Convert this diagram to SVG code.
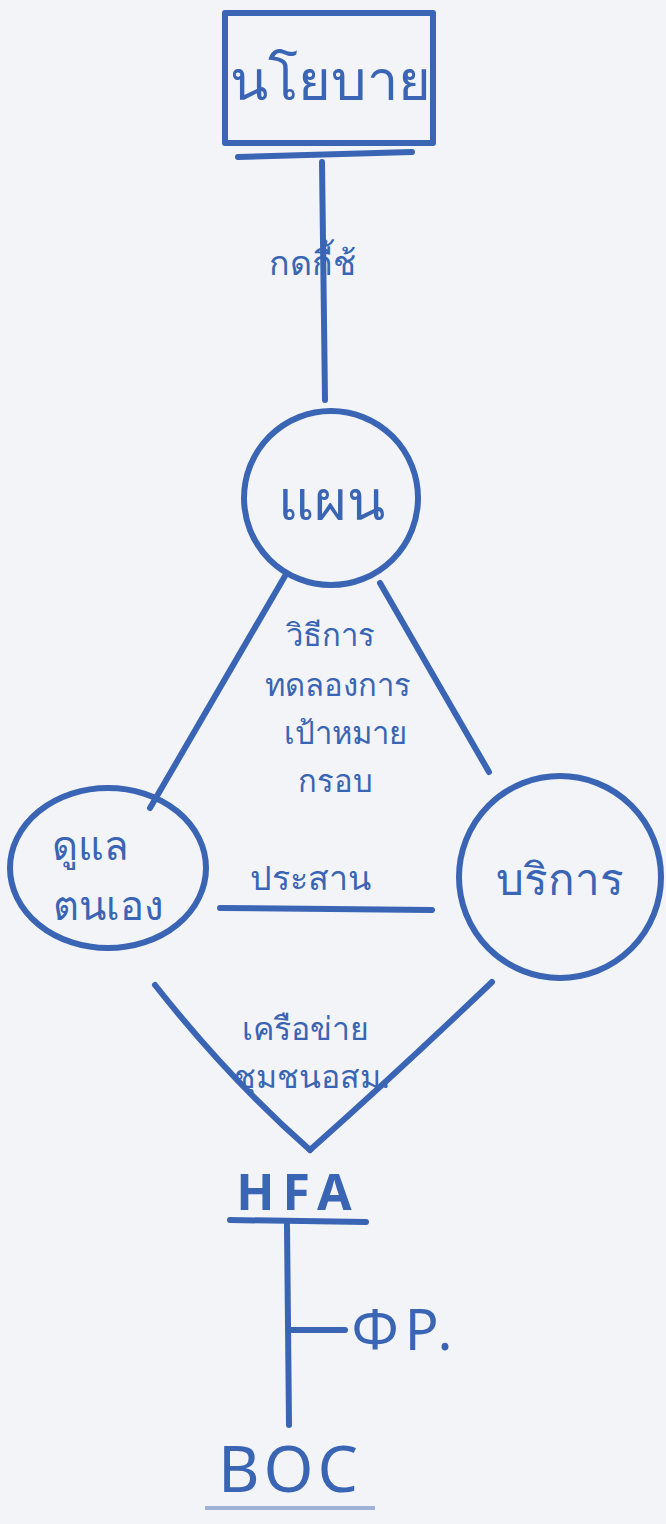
<svg xmlns="http://www.w3.org/2000/svg" width="666" height="1524" viewBox="0 0 666 1524">
<style>
.s{fill:none;stroke:#3a64b4;stroke-width:6;stroke-linecap:round;stroke-linejoin:round}
.t{fill:#3a64b4;font-family:"Noto Sans","Liberation Sans",sans-serif;text-anchor:middle}
</style>
<rect width="666" height="1524" fill="#f3f4f8"/>
<g id="connectors">
<path class="s" d="M322,162 L325,400"/>
<path class="s" d="M285,576 L150,808"/>
<path class="s" d="M380,583 L489,772"/>
<path class="s" d="M220,908 L432,910"/>
<path class="s" d="M155,985 Q230,1080 310,1150"/>
<path class="s" d="M492,982 Q400,1070 310,1150"/>
<path class="s" d="M287,1225 L289,1425"/>
<path class="s" d="M290,1330 L345,1330"/>
<text class="t" x="312" y="275" font-size="34">กดกี้ช้</text>
<text class="t" x="330" y="646" font-size="31">วิธีการ</text>
<text class="t" x="338" y="696" font-size="31">ทดลองการ</text>
<text class="t" x="345" y="744" font-size="31">เป้าหมาย</text>
<text class="t" x="335" y="792" font-size="31">กรอบ</text>
<text class="t" x="310" y="890" font-size="34">ประสาน</text>
<text class="t" x="305" y="1040" font-size="32">เครือข่าย</text>
<text class="t" x="312" y="1088" font-size="32">ชุมชนอสม.</text>
</g>
<g id="n-policy">
<rect class="s" x="225" y="13" width="208" height="130"/>
<path class="s" d="M238,157 L412,152"/>
<text class="t" x="330" y="100" font-size="56">นโยบาย</text>
</g>
<g id="n-plan">
<circle class="s" cx="331" cy="498" r="87"/>
<text class="t" x="331" y="520" font-size="56">แผน</text>
</g>
<g id="n-selfcare">
<ellipse class="s" cx="108" cy="868" rx="98" ry="80"/>
<text class="t" x="90" y="860" font-size="40">ดูแล</text>
<text class="t" x="108" y="920" font-size="40">ตนเอง</text>
</g>
<g id="n-service">
<circle class="s" cx="560" cy="877" r="101"/>
<text class="t" x="560" y="895" font-size="44">บริการ</text>
</g>
<g id="n-hfa">
<text class="t" x="298" y="1210" font-size="50" font-weight="bold" letter-spacing="8">HFA</text>
<path class="s" d="M230,1220 L366,1222"/>
</g>
<g id="n-dp">
<text class="t" x="405" y="1350" font-size="56" letter-spacing="6">ΦP.</text>
</g>
<g id="n-boc">
<text class="t" x="290" y="1492" font-size="64" letter-spacing="4">BOC</text>
<path d="M205,1508 L375,1508" stroke="#3a64b4" stroke-width="4" stroke-opacity="0.45" fill="none"/>
</g>
</svg>
